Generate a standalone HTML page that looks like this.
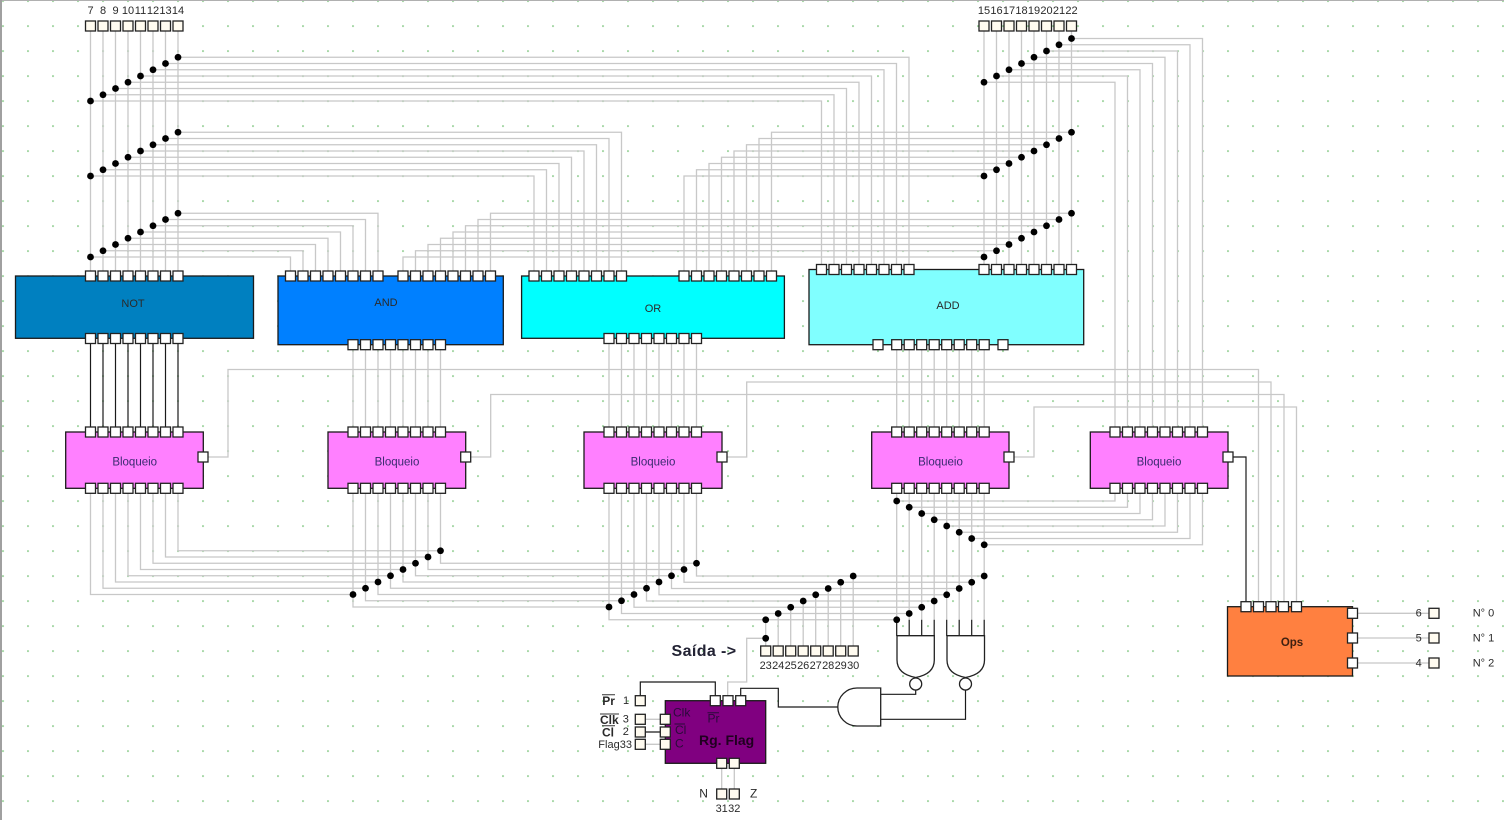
<!DOCTYPE html>
<html><head><meta charset="utf-8"><title>Circuit</title>
<style>
html,body{margin:0;padding:0;background:#fff;width:1504px;height:820px;overflow:hidden}
svg{display:block;filter:blur(.35px)}
text{font-family:"Liberation Sans",sans-serif;font-size:11px;fill:#2a2a2a}
.m{text-anchor:middle}
.w{fill:none;stroke:#c8c8c8;stroke-width:1.3}
.k{fill:none;stroke:#1a1a1a;stroke-width:1.2}
.b{stroke:#1a1a1a;stroke-width:1.3}
.p{fill:#fff;stroke:#222;stroke-width:1.3}
.c{fill:#fffbf0;stroke:#222;stroke-width:1.3}
</style></head><body>
<svg width="1504" height="820" viewBox="0 0 1504 820" xmlns="http://www.w3.org/2000/svg">
<defs>
<pattern id="g" patternUnits="userSpaceOnUse" x="2.2" y="0.3" width="25" height="25"><rect width="1.6" height="1.6" fill="#7cc47c"/></pattern>
<g id="p8"><rect x="-5" y="-5" width="10" height="10"/><rect x="7.5" y="-5" width="10" height="10"/><rect x="20" y="-5" width="10" height="10"/><rect x="32.5" y="-5" width="10" height="10"/><rect x="45" y="-5" width="10" height="10"/><rect x="57.5" y="-5" width="10" height="10"/><rect x="70" y="-5" width="10" height="10"/><rect x="82.5" y="-5" width="10" height="10"/></g>
<g id="d8"><circle cx="0" cy="0" r="3.4"/><circle cx="12.5" cy="-6.25" r="3.4"/><circle cx="25" cy="-12.5" r="3.4"/><circle cx="37.5" cy="-18.75" r="3.4"/><circle cx="50" cy="-25" r="3.4"/><circle cx="62.5" cy="-31.25" r="3.4"/><circle cx="75" cy="-37.5" r="3.4"/><circle cx="87.5" cy="-43.75" r="3.4"/></g>
</defs>
<rect width="1504" height="820" fill="#fff"/>
<rect width="1504" height="820" fill="url(#g)"/>
<rect x="0" y="0" width="1504" height="1" fill="#b0b0b0"/>
<rect x="0" y="0" width="2" height="820" fill="#a0a0a0"/>

<path class="w" d="M90.5 26V276M103 26V276M115.5 26V276M128 26V276M140.5 26V276M153 26V276M165.5 26V276M178 26V276
M984 26V269.5M996.5 26V269.5M1009 26V269.5M1021.5 26V269.5M1034 26V269.5M1046.5 26V269.5M1059 26V269.5M1071.5 26V269.5
M178 57.25H909V269.5M165.5 63.5H896.5V269.5M153 69.75H884V269.5M140.5 76H871.5V269.5M128 82.25H859V269.5M115.5 88.5H846.5V269.5M103 94.75H834V269.5M90.5 101H821.5V269.5
M178 132.25H621.5V276M165.5 138.5H609V276M153 144.75H596.5V276M140.5 151H584V276M128 157.25H571.5V276M115.5 163.5H559V276M103 169.75H546.5V276M90.5 176H534V276
M178 213.25H378V276M165.5 219.5H365.5V276M153 225.75H353V276M140.5 232H340.5V276M128 238.25H328V276M115.5 244.5H315.5V276M103 250.75H303V276M90.5 257H290.5V276
M1071.5 38.5H1202.5V432M1059 44.75H1190V432M1046.5 51H1177.5V432M1034 57.25H1165V432M1021.5 63.5H1152.5V432M1009 69.75H1140V432M996.5 76H1127.5V432M984 82.25H1115V432
M1071.5 132.25H771.5V276M1059 138.5H759V276M1046.5 144.75H746.5V276M1034 151H734V276M1021.5 157.25H721.5V276M1009 163.5H709V276M996.5 169.75H696.5V276M984 176H684V276
M1071.5 213.25H490.5V276M1059 219.5H478V276M1046.5 225.75H465.5V276M1034 232H453V276M1021.5 238.25H440.5V276M1009 244.5H428V276M996.5 250.75H415.5V276M984 257H403V276
M353 345V432M365.5 345V432M378 345V432M390.5 345V432M403 345V432M415.5 345V432M428 345V432M440.5 345V432
M609 338V432M621.5 338V432M634 338V432M646.5 338V432M659 338V432M671.5 338V432M684 338V432M696.5 338V432
M896.7 345V432M909.2 345V432M921.7 345V432M934.2 345V432M946.7 345V432M959.2 345V432M971.7 345V432M984.2 345V432
M90.5 488V594.5H353M103 488V588.25H365.5M115.5 488V582H378M128 488V575.75H390.5M140.5 488V569.5H403M153 488V563.25H415.5M165.5 488V557H428M178 488V550.75H440.5
M353 488V607H609M365.5 488V600.75H621.5M378 488V594.5H634M390.5 488V588.25H646.5M403 488V582H659M415.5 488V575.75H671.5M428 488V569.5H684M440.5 488V563.25H696.5
M609 488V619.75H896.7M621.5 488V613.5H909.2M634 488V607.25H921.7M646.5 488V601H934.2M659 488V594.75H946.7M671.5 488V588.5H959.2M684 488V582.25H971.7M696.5 488V576H984.2
M896.7 488V619.75M909.2 488V619.75M921.7 488V619.75M934.2 488V619.75M946.7 488V619.75M959.2 488V619.75M971.7 488V619.75M984.2 488V619.75
M896.7 501H1115V488M909.2 507.25H1127.5V488M921.7 513.5H1140V488M934.2 519.75H1152.5V488M946.7 526H1165V488M959.2 532.25H1177.5V488M971.7 538.5H1190V488M984.2 544.75H1202.5V488
M765.7 619.75V651M778.2 613.5V651M790.7 607.25V651M803.2 601V651M815.7 594.75V651M828.2 588.5V651M840.7 582.25V651M853.2 576V651
M203 457H228V369.5H1258.5V607M466 457H490.7V394.5H1284V607M722 457H746.7V382H1271V607M1009 457H1034V407H1296.5V607
M766 638.3H746.7V682H727.7V700
M640 719.3H665M640 744.3H665M721.7 763V794M734.3 763V794
M1353 613.3H1434M1353 638H1434M1353 663H1434"/>

<path class="k" d="M90.5 338V432M103 338V432M115.5 338V432M128 338V432M140.5 338V432M153 338V432M165.5 338V432M178 338V432
M896.7 619.75V636M909.2 619.75V636M921.7 619.75V636M934.2 619.75V636M946.7 619.75V636M959.2 619.75V636M971.7 619.75V636M984.2 619.75V636
M1228 457H1246V607
M640.3 700.7V682H715.3V700.7M640 732H665
M915.7 690V694.3H880.7M965.5 690V719.3H880.7M837.7 707H778.3V688.3H740.7V700.7"/>

<!-- gates -->
<g fill="#fff" stroke="#222" stroke-width="1.3">
<path d="M897 635.7H934.3V660Q934.3 674 915.7 677.5Q897 674 897 660Z"/>
<path d="M947 635.7H984.5V660Q984.5 674 965.5 677.5Q947 674 947 660Z"/>
<circle cx="915.7" cy="684" r="6"/>
<circle cx="965.5" cy="684" r="6"/>
<path d="M880.7 688V726H857A19.2 19 0 0 1 857 688Z"/>
</g>

<!-- blocks -->
<rect class="b" x="15.5" y="276" width="238" height="62.3" fill="#0080c0"/>
<rect class="b" x="278" y="276" width="225.3" height="68.7" fill="#0080ff"/>
<rect class="b" x="521.6" y="276" width="262.8" height="62.3" fill="#00ffff"/>
<rect class="b" x="809" y="269.5" width="274.7" height="75.2" fill="#80ffff"/>
<rect class="b" x="65.7" y="432" width="137.6" height="56.3" fill="#ff80ff"/>
<rect class="b" x="328" y="432" width="137.7" height="56.3" fill="#ff80ff"/>
<rect class="b" x="584" y="432" width="138" height="56.3" fill="#ff80ff"/>
<rect class="b" x="871.7" y="432" width="137.3" height="56.3" fill="#ff80ff"/>
<rect class="b" x="1090.3" y="432" width="137.7" height="56.3" fill="#ff80ff"/>
<rect class="b" x="1227.5" y="606.7" width="125" height="69.3" fill="#ff8040"/>
<rect class="b" x="665.3" y="700.7" width="100.4" height="62.6" fill="#800080"/>

<!-- pins -->
<g class="p">
<use href="#p8" x="90.5" y="276"/><use href="#p8" x="290.5" y="276"/><use href="#p8" x="403" y="276"/><use href="#p8" x="534" y="276"/><use href="#p8" x="684" y="276"/><use href="#p8" x="821.5" y="269.5"/><use href="#p8" x="984" y="269.5"/>
<use href="#p8" x="90.5" y="338.5"/><use href="#p8" x="353" y="344.7"/><use href="#p8" x="609" y="338.5"/><use href="#p8" x="896.7" y="344.7"/>
<use href="#p8" x="90.5" y="432"/><use href="#p8" x="353" y="432"/><use href="#p8" x="609" y="432"/><use href="#p8" x="896.7" y="432"/><use href="#p8" x="1115" y="432"/>
<use href="#p8" x="90.5" y="488.3"/><use href="#p8" x="353" y="488.3"/><use href="#p8" x="609" y="488.3"/><use href="#p8" x="896.7" y="488.3"/><use href="#p8" x="1115" y="488.3"/>
<rect x="873" y="339.7" width="10" height="10"/><rect x="998" y="339.7" width="10" height="10"/>
<rect x="198" y="452" width="10" height="10"/><rect x="460.7" y="452" width="10" height="10"/><rect x="717" y="452" width="10" height="10"/><rect x="1004" y="452" width="10" height="10"/><rect x="1223" y="452" width="10" height="10"/>
<rect x="1241" y="601.7" width="10" height="10"/><rect x="1253.5" y="601.7" width="10" height="10"/><rect x="1266" y="601.7" width="10" height="10"/><rect x="1278.5" y="601.7" width="10" height="10"/><rect x="1291.5" y="601.7" width="10" height="10"/>
<rect x="1347.5" y="608.3" width="10" height="10"/><rect x="1347.5" y="633" width="10" height="10"/><rect x="1347.5" y="658" width="10" height="10"/>
<rect x="710.3" y="695.7" width="10" height="10"/><rect x="723" y="695.7" width="10" height="10"/><rect x="735.7" y="695.7" width="10" height="10"/>
</g>
<g class="c">
<use href="#p8" x="90.5" y="26"/><use href="#p8" x="984" y="26"/><use href="#p8" x="765.7" y="651"/>
<rect x="635.3" y="695.7" width="10" height="10"/><rect x="635.3" y="714.3" width="10" height="10"/><rect x="635.3" y="727" width="10" height="10"/><rect x="635.3" y="739.3" width="10" height="10"/>
<rect x="660.3" y="714.3" width="10" height="10"/><rect x="660.3" y="727" width="10" height="10"/><rect x="660.3" y="739.3" width="10" height="10"/>
<rect x="716.7" y="758.3" width="10" height="10"/><rect x="729.3" y="758.3" width="10" height="10"/>
<rect x="716.7" y="789" width="10" height="10"/><rect x="729.3" y="789" width="10" height="10"/>
<rect x="1429" y="608.3" width="10" height="10"/><rect x="1429" y="633" width="10" height="10"/><rect x="1429" y="658" width="10" height="10"/>
</g>

<!-- junction dots -->
<g fill="#000">
<use href="#d8" x="90.5" y="101"/><use href="#d8" x="90.5" y="176"/><use href="#d8" x="90.5" y="257"/>
<use href="#d8" x="984" y="82.25"/><use href="#d8" x="984" y="176"/><use href="#d8" x="984" y="257"/>
<use href="#d8" x="353" y="594.5"/><use href="#d8" x="609" y="607"/><use href="#d8" x="765.7" y="619.75"/><use href="#d8" x="896.7" y="619.75"/>
<circle cx="765.7" cy="638.3" r="3.4"/>
<circle cx="896.7" cy="501" r="3.4"/><circle cx="909.2" cy="507.25" r="3.4"/><circle cx="921.7" cy="513.5" r="3.4"/><circle cx="934.2" cy="519.75" r="3.4"/><circle cx="946.7" cy="526" r="3.4"/><circle cx="959.2" cy="532.25" r="3.4"/><circle cx="971.7" cy="538.5" r="3.4"/><circle cx="984.2" cy="544.75" r="3.4"/>
</g>

<!-- labels -->
<g class="m">
<text x="90.5" y="14">7</text><text x="103" y="14">8</text><text x="115.5" y="14">9</text><text x="128" y="14">10</text><text x="140.5" y="14">11</text><text x="153" y="14">12</text><text x="165.5" y="14">13</text><text x="178" y="14">14</text>
<text x="984" y="14">15</text><text x="996.5" y="14">16</text><text x="1009" y="14">17</text><text x="1021.5" y="14">18</text><text x="1034" y="14">19</text><text x="1046.5" y="14">20</text><text x="1059" y="14">21</text><text x="1071.5" y="14">22</text>
<text x="765.7" y="669">23</text><text x="778.2" y="669">24</text><text x="790.7" y="669">25</text><text x="803.2" y="669">26</text><text x="815.7" y="669">27</text><text x="828.2" y="669">28</text><text x="840.7" y="669">29</text><text x="853.2" y="669">30</text>
<text x="721.7" y="812">31</text><text x="734.3" y="812">32</text>
<text x="133" y="307" fill="#123">NOT</text>
<text x="386" y="306">AND</text>
<text x="653" y="312">OR</text>
<text x="948" y="309">ADD</text>
<text x="134.7" y="465.5" style="font-size:11.5px;fill:#3a2a70">Bloqueio</text>
<text x="397" y="465.5" style="font-size:11.5px;fill:#3a2a70">Bloqueio</text>
<text x="653" y="465.5" style="font-size:11.5px;fill:#3a2a70">Bloqueio</text>
<text x="940.5" y="465.5" style="font-size:11.5px;fill:#3a2a70">Bloqueio</text>
<text x="1159" y="465.5" style="font-size:11.5px;fill:#3a2a70">Bloqueio</text>
<text x="1292" y="646" style="font-weight:bold;font-size:11.5px;fill:#402010">Ops</text>
<text x="1418.7" y="616.5">6</text>
<text x="1418.7" y="641.5">5</text>
<text x="1418.7" y="666.5">4</text>
<text x="1483.5" y="616.5">N° 0</text>
<text x="1483.5" y="641.5">N° 1</text>
<text x="1483.5" y="666.5">N° 2</text>
</g>
<text x="671.5" y="656" style="font-size:16px;font-weight:bold;fill:#223;letter-spacing:.4px">Saída -&gt;</text>
<text x="699" y="745" style="font-size:14px;font-weight:bold;fill:#200020">Rg. Flag</text>
<text x="673" y="716.5" style="font-size:12px;fill:#2a0a3a">Clk</text>
<text x="675" y="734" style="font-size:12px;fill:#2a0a3a">Cl</text>
<text x="675" y="747.5" style="font-size:12px;fill:#2a0a3a">C</text>
<text x="707.5" y="722.5" style="font-size:12px;fill:#2a0a3a">Pr</text>
<path d="M674.5 724H685M707.5 712.7H719" stroke="#2a0a3a" fill="none" stroke-width="1"/>
<text x="602.3" y="705" style="font-size:12px;font-weight:bold">Pr</text>
<text x="600" y="724" style="font-size:12px;font-weight:bold">Clk</text>
<text x="602" y="736.7" style="font-size:12px;font-weight:bold">Cl</text>
<path d="M602 694.7H615M600 714H619M602 725.7H615" stroke="#333" fill="none" stroke-width="1"/>
<text x="623" y="704">1</text><text x="622.7" y="722.7">3</text><text x="622.7" y="735">2</text>
<text x="598.3" y="748">Flag33</text>
<text x="699.3" y="797.5" style="font-size:12px">N</text>
<text x="750" y="797.5" style="font-size:12px">Z</text>
</svg>
</body></html>
